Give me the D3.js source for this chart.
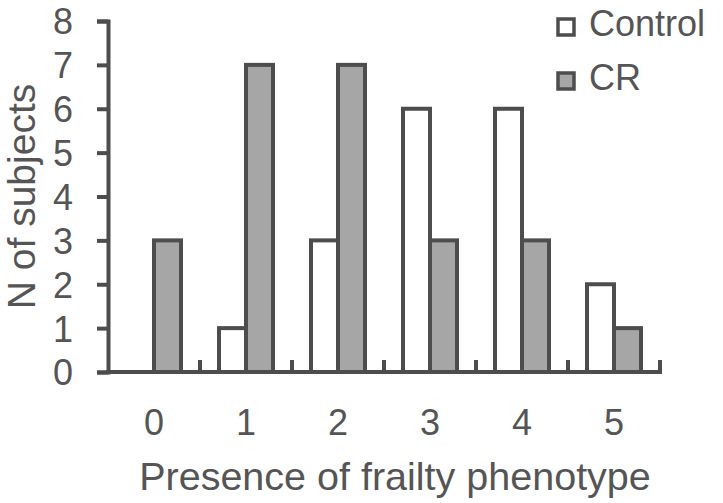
<!DOCTYPE html>
<html>
<head>
<meta charset="utf-8">
<script src="https://cdn.jsdelivr.net/npm/d3@7"></script>
<style>
    body { margin: 0; background: #fff; }
    text { font-family: "Liberation Sans", Arial, sans-serif; fill: #555; }
</style>
</head>
<body>
<div id="chart"></div>
<script>
// data
let categories = ['0', '1', '2', '3', '4', '5'];
let controlValues = [0, 1, 3, 6, 6, 2];
let crValues = [3, 7, 7, 3, 3, 1];
let yTicks = [0, 1, 2, 3, 4, 5, 6, 7, 8];
let seriesNames = ['Control', 'CR'];
let seriesColors = ['#ffffff', '#a6a6a6'];

let width = 723, height = 503;
let lineColor = '#4d4d4d';

let svg = d3.select('#chart').append('svg')
    .attr('width', width)
    .attr('height', height);

// scales
let x = d3.scaleBand()
    .domain(categories)
    .range([108, 660])
    .paddingInner(0)
    .paddingOuter(0);

let y = d3.scaleLinear()
    .domain([0, 8])
    .range([372, 21]);

let barW = 27;

// bars
let series = [controlValues, crValues];
series.forEach((vals, s) => {
    svg.append('g').selectAll('rect')
        .data(vals.map((v, i) => ({cat: categories[i], v: v})).filter(d => d.v > 0))
        .enter().append('rect')
        .attr('x', d => x(d.cat) + x.bandwidth() / 2 + (s === 0 ? -barW : 0))
        .attr('y', d => y(d.v))
        .attr('width', barW)
        .attr('height', d => y(0) - y(d.v))
        .attr('fill', seriesColors[s])
        .attr('stroke', lineColor)
        .attr('stroke-width', 4);
});

// y axis
let yAxis = d3.axisLeft(y)
    .tickValues(yTicks)
    .tickSize(11)
    .tickPadding(24)
    .tickFormat(d3.format('d'));

let gy = svg.append('g')
    .attr('transform', 'translate(108,0)')
    .call(yAxis);
gy.select('.domain').attr('stroke', lineColor).attr('stroke-width', 4);
gy.selectAll('.tick line').attr('stroke', lineColor).attr('stroke-width', 4);
gy.selectAll('.tick text').style('font-size', '36px').attr('fill', '#555').attr('dy', '0.36em');

// x axis line with inward ticks at category boundaries
svg.append('line')
    .attr('x1', 106).attr('x2', x.range()[1] + 2)
    .attr('y1', y(0)).attr('y2', y(0))
    .attr('stroke', lineColor).attr('stroke-width', 4);

let boundaries = categories.slice(1).map(c => x(c)).concat([x.range()[1]]);
svg.append('g').selectAll('line')
    .data(boundaries)
    .enter().append('line')
    .attr('x1', d => d).attr('x2', d => d)
    .attr('y1', y(0)).attr('y2', y(0) - 12)
    .attr('stroke', lineColor).attr('stroke-width', 4);

svg.append('g').selectAll('text')
    .data(categories)
    .enter().append('text')
    .attr('x', d => x(d) + x.bandwidth() / 2)
    .attr('y', 435)
    .attr('text-anchor', 'middle')
    .style('font-size', '36px')
    .text(d => d);

// axis titles
svg.append('text')
    .attr('x', 395)
    .attr('y', 490)
    .attr('text-anchor', 'middle')
    .style('font-size', '39.5px')
    .text('Presence of frailty phenotype');

svg.append('text')
    .attr('transform', 'translate(35,' + ((y(0) + y(8)) / 2) + ') rotate(-90)')
    .attr('text-anchor', 'middle')
    .style('font-size', '39px')
    .text('N of subjects');

// legend
let legend = svg.append('g').selectAll('g')
    .data(seriesNames)
    .enter().append('g')
    .attr('transform', (d, i) => 'translate(558,' + (19 + i * 54) + ')');

legend.append('rect')
    .attr('width', 16)
    .attr('height', 16)
    .attr('fill', (d, i) => seriesColors[i])
    .attr('stroke', lineColor)
    .attr('stroke-width', 3.5);

legend.append('text')
    .attr('x', 31)
    .attr('y', 17)
    .style('font-size', '36px')
    .text(d => d);
</script>
</body>
</html>
